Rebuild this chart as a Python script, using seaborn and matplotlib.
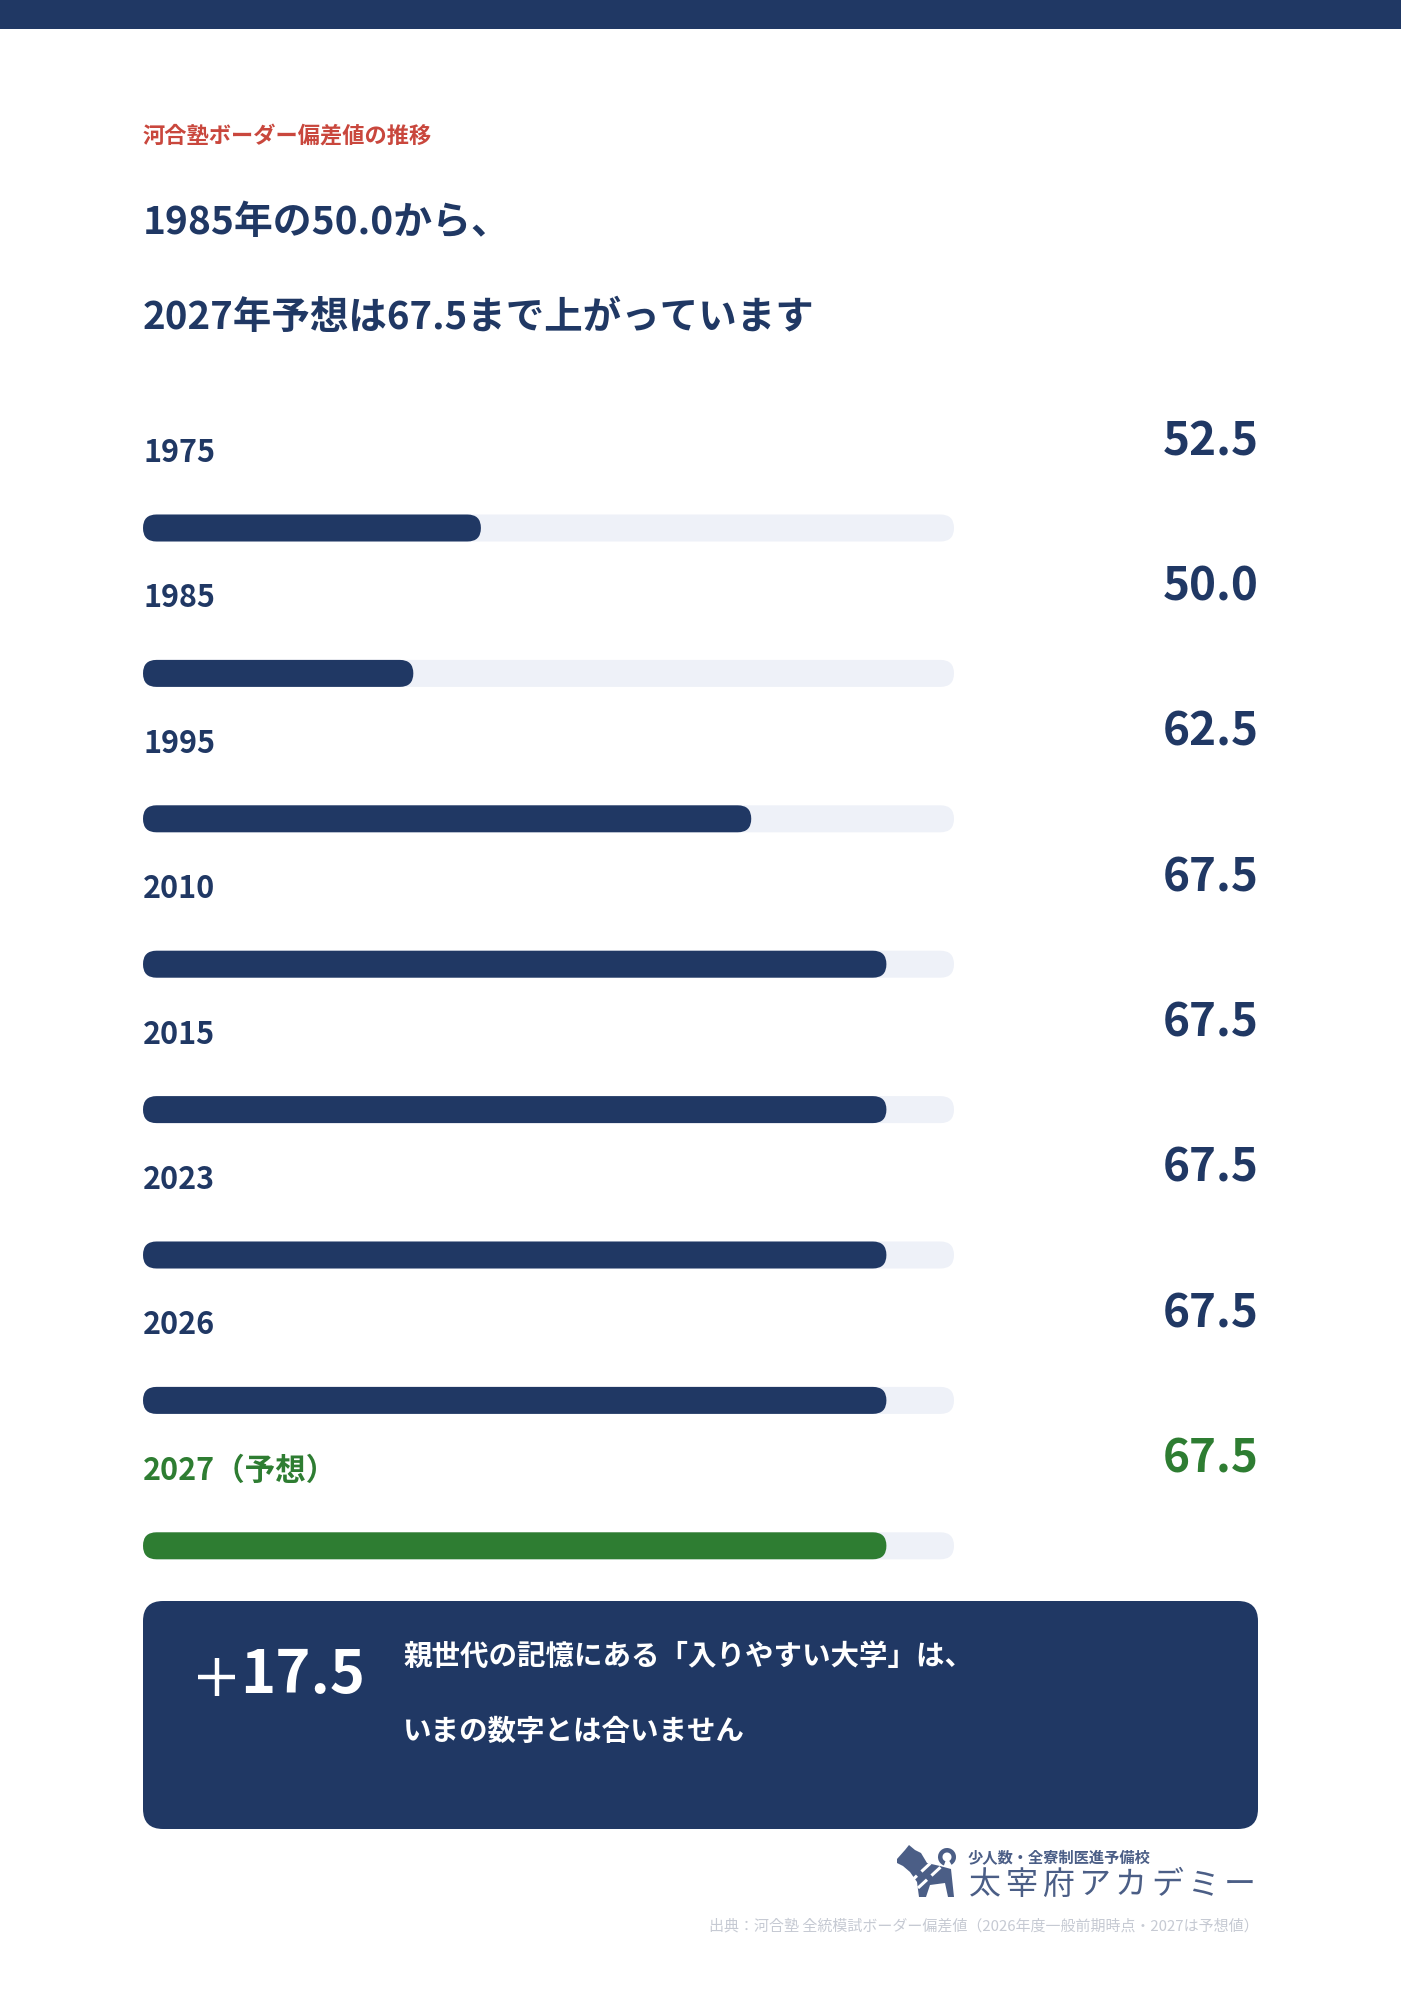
import matplotlib
matplotlib.use("Agg")
import matplotlib.pyplot as plt
import seaborn as sns
import pandas as pd
from matplotlib.patches import FancyBboxPatch, Rectangle, Polygon, Wedge
from matplotlib.lines import Line2D
from matplotlib.transforms import IdentityTransform

# ---- data ----
years = ["1975", "1985", "1995", "2010", "2015", "2023", "2026", "2027（予想）"]
scores = [52.5, 50.0, 62.5, 67.5, 67.5, 67.5, 67.5, 67.5]
kinds = ["実績"] * 7 + ["予想"]
scale_min, scale_max = 40, 70
gain = "17.5"

eyebrow = "河合塾ボーダー偏差値の推移"
headline = ["1985年の50.0から、", "2027年予想は67.5まで上がっています"]
note_lines = ["親世代の記憶にある「入りやすい大学」は、", "いまの数字とは合いません"]
logo_sub = "少人数・全寮制医進予備校"
logo_main = "太宰府アカデミー"
source = "出典：河合塾 全統模試ボーダー偏差値（2026年度一般前期時点・2027は予想値）"

NAVY = "#203864"
GREEN = "#2e7d32"
TRACK = "#eef1f8"
RED = "#c9473d"
LOGO = "#4b5e86"
GREY = "#c6cad3"

sns.set_theme(style="white")
plt.rcParams["font.family"] = ["Noto Sans CJK JP", "DejaVu Sans"]

W, H = 1401, 2000
fig = plt.figure(figsize=(W / 100, H / 100), dpi=100)
fig.patch.set_facecolor("white")


def fx(px):
    return px / W


def fy(py):
    return 1 - py / H


# top band
fig.add_artist(Rectangle((0, fy(29)), 1, 29 / H, transform=fig.transFigure,
                         facecolor=NAVY, edgecolor="none"))

# heading texts
fig.text(fx(143), fy(143), eyebrow, color=RED, fontsize=16, fontweight="bold", va="baseline")
fig.text(fx(143), fy(234), headline[0], color=NAVY, fontsize=28, fontweight="bold", va="baseline")
fig.text(fx(143), fy(329), headline[1], color=NAVY, fontsize=27.7, fontweight="bold", va="baseline")

# ---- bars ----
row_h = 145.4
first_center = 528
ax_top = first_center - row_h / 2
ax = fig.add_axes([fx(143), fy(ax_top + row_h * len(years)), (954 - 143) / W, row_h * len(years) / H])

df = pd.DataFrame({
    "year": years,
    "score": scores,
    "kind": kinds,
})
df["fill"] = df["score"] - scale_min
df["track"] = scale_max - scale_min

bar_w = 27 / row_h
sns.barplot(data=df, y="year", x="track", color=TRACK, saturation=1, width=bar_w,
            orient="h", ax=ax)
sns.barplot(data=df, y="year", x="fill", hue="kind", palette={"実績": NAVY, "予想": GREEN},
            saturation=1, width=bar_w, orient="h", dodge=False, legend=False, ax=ax)
ax.set_xlim(0, scale_max - scale_min)
ax.set_ylim(len(years) - 0.5, -0.5)
ax.axis("off")

# rounded bar ends
fig.canvas.draw()
for bar in list(ax.patches):
    bb = bar.get_window_extent()
    if bb.width <= 0:
        continue
    r = bb.height / 2
    fig.add_artist(FancyBboxPatch((bb.x0, bb.y0), bb.width, bb.height,
                                  boxstyle=f"round,pad=0,rounding_size={r}",
                                  transform=IdentityTransform(),
                                  facecolor=bar.get_facecolor(), edgecolor="none"))
    bar.set_visible(False)

for i, (yr, sc, kd) in enumerate(zip(years, scores, kinds)):
    col = GREEN if kd == "予想" else NAVY
    ax.annotate(yr, xy=(0, i - 66 / row_h), xycoords="data", color=col,
                fontsize=22, fontweight="bold", va="baseline", ha="left", annotation_clip=False)
    ax.annotate(f"{sc:.1f}", xy=(fx(1259), i - 73 / row_h), xycoords=("figure fraction", "data"),
                color=col, fontsize=33, fontweight="bold", va="baseline", ha="right",
                annotation_clip=False)

# ---- note box ----
fig.add_artist(FancyBboxPatch((143, H - 1829), 1258 - 143, 1829 - 1601,
                              boxstyle="round,pad=0,rounding_size=20",
                              transform=IdentityTransform(), facecolor=NAVY, edgecolor="none"))
# thin plus sign drawn as two strokes, bold digits as text
fig.add_artist(Line2D([198, 235], [H - 1677, H - 1677], transform=IdentityTransform(),
                      color="white", lw=3.2, solid_capstyle="butt"))
fig.add_artist(Line2D([216.5, 216.5], [H - 1658, H - 1696], transform=IdentityTransform(),
                      color="white", lw=3.2, solid_capstyle="butt"))
fig.text(fx(240), fy(1693), gain, color="white", fontsize=43, fontweight="bold", va="baseline")
fig.text(fx(403), fy(1665), note_lines[0], color="white", fontsize=20.5, fontweight="bold", va="baseline")
fig.text(fx(403), fy(1740), note_lines[1], color="white", fontsize=20.5, fontweight="bold", va="baseline")

# ---- logo ----
dog = [(897, 1859), (905, 1850), (909, 1845), (915, 1850), (921, 1853), (927, 1863),
       (940, 1866), (951, 1869), (954, 1897), (948, 1897), (945, 1883), (930, 1885),
       (926, 1897), (919, 1897), (917, 1882), (910, 1872), (903, 1866), (897, 1863)]
fig.add_artist(Polygon([(x, H - y) for x, y in dog], closed=True,
                       transform=IdentityTransform(), facecolor=LOGO, edgecolor="none"))
fig.add_artist(Wedge((947, H - 1857), 9, -60, 250, width=4.5, transform=IdentityTransform(),
                     facecolor=LOGO, edgecolor="none"))
for (x0, y0, x1, y1) in [(908, 1884, 936, 1858), (918, 1888, 944, 1864)]:
    fig.add_artist(Line2D([x0, x1], [H - y0, H - y1], transform=IdentityTransform(),
                          color="white", lw=2.2, dashes=(4, 2)))

fig.text(fx(968), fy(1863), logo_sub, color=LOGO, fontsize=11, fontweight="bold", va="baseline")
step = (1258 - 967) / len(logo_main)
for k, ch in enumerate(logo_main):
    fig.text(fx(967 + k * step + step / 2), fy(1894), ch, color=LOGO, fontsize=23,
             fontweight="normal", va="baseline", ha="center")

fig.text(fx(1259), fy(1930), source, color=GREY, fontsize=10.8, ha="right", va="baseline")

fig.savefig("out.png", dpi=100, facecolor="white")
